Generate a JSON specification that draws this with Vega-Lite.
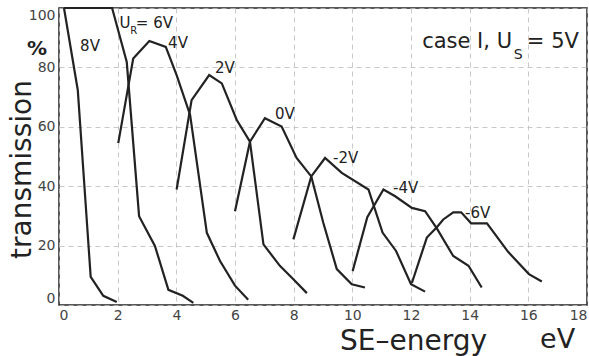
{
  "$schema": "https://vega.github.io/schema/vega-lite/v6.json",
  "width": 528,
  "height": 297,
  "autosize": {"type": "none"},
  "padding": {"left": 59, "top": 8, "right": 2, "bottom": 51},
  "background": "white",
  "config": {
    "font": "DejaVu Sans",
    "view": {"stroke": "#222", "strokeWidth": 1.5},
    "axis": {
      "grid": true,
      "gridColor": "#bbb",
      "gridDash": [5, 4],
      "gridWidth": 0.8,
      "domain": false,
      "ticks": false,
      "labelFlush": true,
      "labelFontSize": 14,
      "labelColor": "#444",
      "titleColor": "#222",
      "titleFontWeight": "normal"
    }
  },
  "datasets": {
    "curves": [
      {"curve": "8V", "energy": 0.17, "t": 100},
      {"curve": "8V", "energy": 0.64, "t": 72.4},
      {"curve": "8V", "energy": 1.08, "t": 9.5},
      {"curve": "8V", "energy": 1.51, "t": 3.1},
      {"curve": "8V", "energy": 1.97, "t": 1},
      {"curve": "6V", "energy": 0.17, "t": 100},
      {"curve": "6V", "energy": 1.81, "t": 100},
      {"curve": "6V", "energy": 2.31, "t": 81.8},
      {"curve": "6V", "energy": 2.73, "t": 29.9},
      {"curve": "6V", "energy": 3.27, "t": 19.9},
      {"curve": "6V", "energy": 3.73, "t": 5.1},
      {"curve": "6V", "energy": 4.22, "t": 3.1},
      {"curve": "6V", "energy": 4.58, "t": 0.7},
      {"curve": "4V", "energy": 2.02, "t": 54.5},
      {"curve": "4V", "energy": 2.53, "t": 83},
      {"curve": "4V", "energy": 3.08, "t": 88.9},
      {"curve": "4V", "energy": 3.64, "t": 86.9},
      {"curve": "4V", "energy": 4.01, "t": 77.4},
      {"curve": "4V", "energy": 4.47, "t": 64},
      {"curve": "4V", "energy": 5.04, "t": 24.3},
      {"curve": "4V", "energy": 5.49, "t": 14.8},
      {"curve": "4V", "energy": 6.0, "t": 6.5},
      {"curve": "4V", "energy": 6.45, "t": 1.8},
      {"curve": "2V", "energy": 4.01, "t": 38.9},
      {"curve": "2V", "energy": 4.52, "t": 69},
      {"curve": "2V", "energy": 5.12, "t": 77.4},
      {"curve": "2V", "energy": 5.55, "t": 74.6},
      {"curve": "2V", "energy": 6.06, "t": 62.3},
      {"curve": "2V", "energy": 6.51, "t": 55},
      {"curve": "2V", "energy": 6.97, "t": 20.4},
      {"curve": "2V", "energy": 7.53, "t": 13.2},
      {"curve": "2V", "energy": 7.99, "t": 8.7},
      {"curve": "2V", "energy": 8.45, "t": 4},
      {"curve": "0V", "energy": 6.0, "t": 31.6},
      {"curve": "0V", "energy": 6.51, "t": 55},
      {"curve": "0V", "energy": 7.02, "t": 62.9},
      {"curve": "0V", "energy": 7.59, "t": 60.1},
      {"curve": "0V", "energy": 8.1, "t": 49.5},
      {"curve": "0V", "energy": 8.6, "t": 43.3},
      {"curve": "0V", "energy": 9.01, "t": 27.7},
      {"curve": "0V", "energy": 9.47, "t": 12.1},
      {"curve": "0V", "energy": 9.98, "t": 7},
      {"curve": "0V", "energy": 10.43, "t": 5.9},
      {"curve": "-2V", "energy": 7.99, "t": 22.1},
      {"curve": "-2V", "energy": 8.6, "t": 43.3},
      {"curve": "-2V", "energy": 9.07, "t": 49.5},
      {"curve": "-2V", "energy": 9.64, "t": 44.5},
      {"curve": "-2V", "energy": 10.55, "t": 38.9},
      {"curve": "-2V", "energy": 11.03, "t": 24.4},
      {"curve": "-2V", "energy": 11.49, "t": 18.2},
      {"curve": "-2V", "energy": 12.0, "t": 7},
      {"curve": "-2V", "energy": 12.48, "t": 4.5},
      {"curve": "-4V", "energy": 10.01, "t": 11.4},
      {"curve": "-4V", "energy": 10.51, "t": 29.6},
      {"curve": "-4V", "energy": 11.06, "t": 38.9},
      {"curve": "-4V", "energy": 11.46, "t": 36.6},
      {"curve": "-4V", "energy": 12.03, "t": 32.7},
      {"curve": "-4V", "energy": 12.48, "t": 31.6},
      {"curve": "-4V", "energy": 12.88, "t": 25.8},
      {"curve": "-4V", "energy": 13.44, "t": 16.5},
      {"curve": "-4V", "energy": 13.96, "t": 13.2},
      {"curve": "-4V", "energy": 14.41, "t": 5.9},
      {"curve": "-6V", "energy": 12.03, "t": 7.4},
      {"curve": "-6V", "energy": 12.54, "t": 22.7},
      {"curve": "-6V", "energy": 12.88, "t": 26.2},
      {"curve": "-6V", "energy": 13.1, "t": 28.8},
      {"curve": "-6V", "energy": 13.44, "t": 31.2},
      {"curve": "-6V", "energy": 13.71, "t": 31.2},
      {"curve": "-6V", "energy": 14.05, "t": 27.5},
      {"curve": "-6V", "energy": 14.59, "t": 27.5},
      {"curve": "-6V", "energy": 15.31, "t": 17.9},
      {"curve": "-6V", "energy": 16.02, "t": 10.4},
      {"curve": "-6V", "energy": 16.46, "t": 7.9}
    ],
    "curveLabels": [
      {"energy": 0.72, "t": 85.4, "label": "8V"},
      {"energy": 2.06, "t": 93.2, "label": "U"},
      {"energy": 2.62, "t": 93.2, "label": "= 6V"},
      {"energy": 3.72, "t": 86.4, "label": "4V"},
      {"energy": 5.32, "t": 78, "label": "2V"},
      {"energy": 7.36, "t": 62.7, "label": "0V"},
      {"energy": 9.34, "t": 47.8, "label": "-2V"},
      {"energy": 11.39, "t": 37.6, "label": "-4V"},
      {"energy": 13.84, "t": 29.2, "label": "-6V"}
    ],
    "subs": [
      {"energy": 2.43, "t": 91.4, "label": "R"}
    ],
    "caseText": [
      {"energy": 12.38, "t": 86.4, "label": "case I, U"},
      {"energy": 15.95, "t": 86.4, "label": "= 5V"}
    ],
    "caseSub": [
      {"energy": 15.5, "t": 82.8, "label": "S"}
    ],
    "pct": [
      {"energy": -1.09, "t": 84.1, "label": "%"}
    ],
    "unit": [
      {"energy": 16.4, "t": -14.5, "label": "eV"}
    ]
  },
  "layer": [
    {
      "data": {"name": "curves"},
      "mark": {"type": "line", "color": "#222", "strokeWidth": 2.2, "clip": false},
      "encoding": {
        "x": {
          "field": "energy", "type": "quantitative",
          "scale": {"domain": [0, 18], "nice": false, "zero": false},
          "axis": {
            "values": [0, 2, 4, 6, 8, 10, 12, 14, 16, 18],
            "labelPadding": 3,
            "title": "SE–energy",
            "titleFontSize": 28,
            "titleX": 354,
            "titleY": 44,
            "titleAlign": "center",
            "titleBaseline": "alphabetic"
          }
        },
        "y": {
          "field": "t", "type": "quantitative",
          "scale": {"domain": [0, 100], "nice": false},
          "axis": {
            "values": [0, 20, 40, 60, 80, 100],
            "labelPadding": 4,
            "title": "transmission",
            "titleFontSize": 28,
            "titleAngle": -90,
            "titleX": -29,
            "titleY": 161,
            "titleAlign": "center",
            "titleBaseline": "alphabetic"
          }
        },
        "detail": {"field": "curve"}
      }
    },
    {
      "data": {"name": "curveLabels"},
      "mark": {"type": "text", "align": "left", "baseline": "alphabetic", "fontSize": 15, "color": "#222"},
      "encoding": {
        "x": {"field": "energy", "type": "quantitative"},
        "y": {"field": "t", "type": "quantitative"},
        "text": {"field": "label"}
      }
    },
    {
      "data": {"name": "subs"},
      "mark": {"type": "text", "align": "left", "baseline": "alphabetic", "fontSize": 10, "color": "#222"},
      "encoding": {
        "x": {"field": "energy", "type": "quantitative"},
        "y": {"field": "t", "type": "quantitative"},
        "text": {"field": "label"}
      }
    },
    {
      "data": {"name": "caseText"},
      "mark": {"type": "text", "align": "left", "baseline": "alphabetic", "fontSize": 21, "color": "#222"},
      "encoding": {
        "x": {"field": "energy", "type": "quantitative"},
        "y": {"field": "t", "type": "quantitative"},
        "text": {"field": "label"}
      }
    },
    {
      "data": {"name": "caseSub"},
      "mark": {"type": "text", "align": "left", "baseline": "alphabetic", "fontSize": 14, "color": "#222"},
      "encoding": {
        "x": {"field": "energy", "type": "quantitative"},
        "y": {"field": "t", "type": "quantitative"},
        "text": {"field": "label"}
      }
    },
    {
      "data": {"name": "pct"},
      "mark": {"type": "text", "align": "left", "baseline": "alphabetic", "fontSize": 20, "fontWeight": "bold", "color": "#222"},
      "encoding": {
        "x": {"field": "energy", "type": "quantitative"},
        "y": {"field": "t", "type": "quantitative"},
        "text": {"field": "label"}
      }
    },
    {
      "data": {"name": "unit"},
      "mark": {"type": "text", "align": "left", "baseline": "alphabetic", "fontSize": 27, "color": "#222"},
      "encoding": {
        "x": {"field": "energy", "type": "quantitative"},
        "y": {"field": "t", "type": "quantitative"},
        "text": {"field": "label"}
      }
    }
  ]
}
